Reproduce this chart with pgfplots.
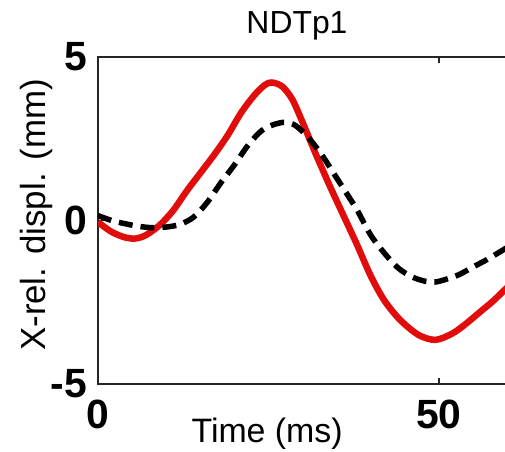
\documentclass[border=0pt]{standalone}
\usepackage{pgfplots}
\pgfplotsset{compat=1.18}
\usepackage{fontspec}
\setmainfont{Liberation Sans}
\definecolor{mred}{RGB}{225,12,12}
\begin{document}
\begin{tikzpicture}
\begin{axis}[
  at={(0,0)}, anchor=south west,
  x=6.82bp, y=32.7bp,
  xmin=0, xmax=80, ymin=-5, ymax=5,
  xtick={0,50}, ytick={-5,0,5},
  tick align=inside,
  major tick length=6bp,
  axis line style={line width=1.2bp, black!85},
  every tick/.style={line width=1.2bp, black!85},
  /pgf/number format/assume math mode=true,
  tick label style={font=\fontsize{41}{41}\selectfont\bfseries, inner sep=0pt},
  xticklabel style={anchor=north, yshift=-16bp},
  yticklabel style={anchor=east, xshift=-11bp},
  title={NDTp1},
  title style={font=\fontsize{32}{32}\selectfont, at={(axis description cs:0.3647,1.055)}, anchor=base, inner sep=0pt},
  xlabel={Time (ms)},
  xlabel style={font=\fontsize{34}{34}\selectfont, at={(axis description cs:0.31,-0.1774)}, anchor=base, inner sep=0pt},
  ylabel={X-rel. displ. (mm)},
  ylabel style={font=\fontsize{35}{35}\selectfont, at={(axis description cs:-0.0971,0.517)}, anchor=base, inner sep=0pt},
]
\addplot[mred, line width=6.5bp, smooth] coordinates {
(0,-0.05) (2,-0.35) (4,-0.52) (5.5,-0.55) (7,-0.45) (9,-0.15) (11,0.3) (13,0.9)
(15,1.45) (17,2.0) (19,2.6) (21,3.3) (23,3.85) (24.5,4.15) (25.5,4.22) (27,4.1)
(28.5,3.7) (30,3.0) (31,2.5) (32,2.0) (34,1.05) (36,0.15) (38,-0.75) (40,-1.7)
(42,-2.45) (44.3,-3.04) (47,-3.5) (49.5,-3.65) (52,-3.45) (54,-3.15) (56,-2.8)
(58,-2.45) (60,-2.05) (62,-1.7)
};
\addplot[black, line width=5.5bp, smooth, dash pattern=on 14bp off 8bp] coordinates {
(0,0.15) (2,0.0) (4,-0.1) (6,-0.18) (8,-0.22) (10,-0.2) (12,-0.12) (14,0.1)
(16,0.55) (18,1.15) (20,1.7) (22,2.3) (24,2.75) (26,2.95) (27.5,3.0) (29,2.9)
(31,2.5) (33,1.95) (35,1.3) (37,0.65) (38,0.32) (40,-0.45) (42,-1.0) (44,-1.45)
(46,-1.72) (48,-1.86) (49.5,-1.88) (51,-1.8) (53,-1.65) (55,-1.42) (57,-1.2)
(59,-0.95) (61,-0.7)
};
\end{axis}
\pgfresetboundingbox
\useasboundingbox (-98bp,-68bp) rectangle (407bp,384bp);
\end{tikzpicture}
\end{document}
